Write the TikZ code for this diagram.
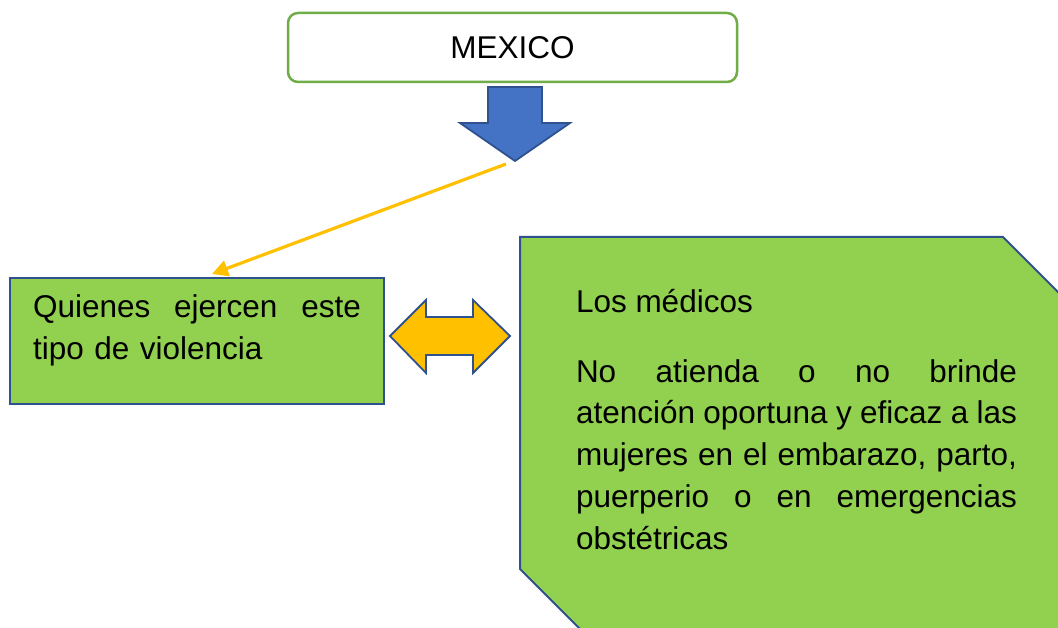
\documentclass[tikz,border=0pt]{standalone}
\usepackage{fontspec}
\setmainfont{Liberation Sans}
\usetikzlibrary{arrows.meta}
\definecolor{boxgreen}{HTML}{92D050}
\definecolor{lineblue}{HTML}{2F528F}
\definecolor{framegreen}{HTML}{70AD47}
\definecolor{arrowblue}{HTML}{4472C4}
\definecolor{gold}{HTML}{FFC000}
\begin{document}
\begin{tikzpicture}[x=1pt,y=-1pt,
  txt/.style={font=\fontsize{31.5}{42}\selectfont, inner sep=0pt, outer sep=0pt, text=black},
  greenbox/.style={fill=boxgreen, draw=lineblue, line width=2pt},
  shapearrow/.style={draw=lineblue, line width=1.8pt, line join=miter},
  connector/.style={draw=gold, line width=3.2pt, -{Triangle[length=16pt,width=16pt]}}]
\useasboundingbox (0,0) rectangle (1058,628);
\fill[white] (0,0) rectangle (1058,628);

% top box
\node[txt, draw=framegreen, line width=2.5pt, rounded corners=10pt, fill=white,
      minimum width=449pt, minimum height=69pt, anchor=north west] (mexico) at (288,13) {MEXICO};

% blue block arrow
\filldraw[shapearrow, fill=arrowblue] (488,87) -- (542,87) -- (542,123) -- (570,123)
  -- (515,161) -- (460,123) -- (488,123) -- cycle;

% left box
\node[greenbox, minimum width=374pt, minimum height=126pt, anchor=north west, inner sep=0pt] (quienes) at (9,277) {};
\node[txt, text width=328pt, align=left, anchor=base west] (quienestext) at (33,318)
  {\makebox[328pt][s]{Quienes\hfill ejercen\hfill este}\\tipo de violencia};

% yellow connector
\coordinate (ystart) at (506,164);
\coordinate (yend) at (212,274);
\draw[connector] (ystart) -- (yend);

% double arrow
\filldraw[shapearrow, fill=gold] (390,336) -- (426,300) -- (426,317) -- (473,317) -- (473,300)
  -- (510,336) -- (473,373) -- (473,355) -- (426,355) -- (426,373) -- cycle;

% right snipped box
\begin{scope}
\clip (0,0) rectangle (1058,628);
\draw[greenbox] (520,237) -- (1003,237) -- (1103,337) -- (1103,669) -- (620,669) -- (520,569) -- cycle;
\end{scope}
\node[txt, anchor=base west] (medicos) at (576,313) {Los médicos};
\node[txt, text width=441pt, align=left, anchor=base west] (medtext) at (576,382)
  {\makebox[441pt][s]{No\hfill atienda\hfill o\hfill no\hfill brinde}\\
   \makebox[441pt][s]{atención\hfill oportuna\hfill y\hfill eficaz\hfill a\hfill las}\\
   \makebox[441pt][s]{mujeres\hfill en\hfill el\hfill embarazo,\hfill parto,}\\
   \makebox[441pt][s]{puerperio\hfill o\hfill en\hfill emergencias}\\
   obstétricas};
\end{tikzpicture}
\end{document}
